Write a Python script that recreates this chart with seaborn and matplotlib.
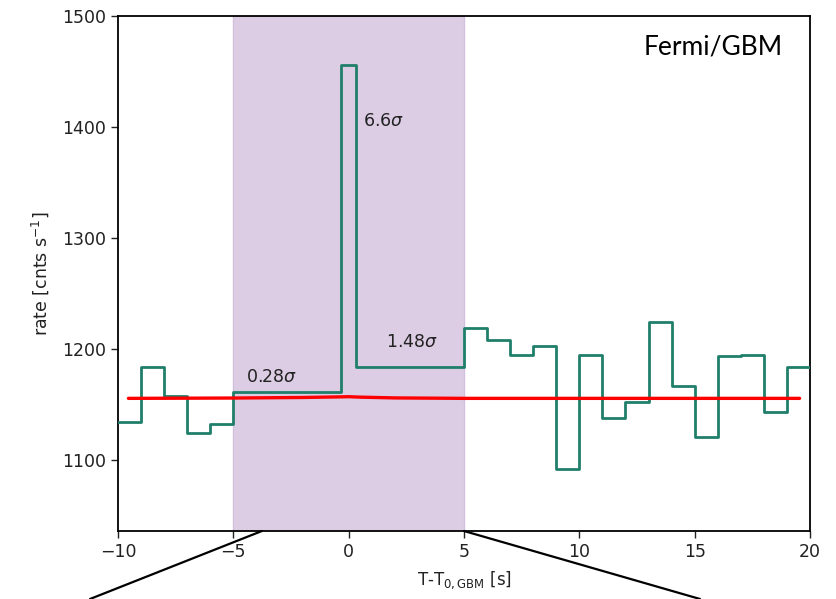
import numpy as np
import pandas as pd
import matplotlib
matplotlib.use("Agg")
import matplotlib.pyplot as plt
import seaborn as sns
from matplotlib.patches import ConnectionPatch

# ---- data ----
bin_edges = [-10, -9, -8, -7, -6, -5, -0.35, 0.33, 5, 6, 7, 8, 9, 10, 11, 12,
             13, 14, 15, 16, 17, 18, 19, 20]
rates = [1134, 1184, 1158, 1124, 1132, 1161, 1456, 1184, 1219, 1208, 1195,
         1203, 1092, 1195, 1138, 1152, 1224, 1167, 1121, 1194, 1195, 1143, 1184]
fit_t = [-9.55, -5.0, -2.0, -0.5, 0.0, 0.5, 2.0, 5.0, 19.55]
fit_rate = [1155.5, 1155.8, 1156.3, 1156.8, 1157.0, 1156.6, 1155.9, 1155.5, 1155.5]
span = [-5, 5]
sigma_labels = ["0.28$\\sigma$", "6.6$\\sigma$", "1.48$\\sigma$"]
sigma_x = [-4.45, 0.6, 1.6]
sigma_y = [1175, 1405, 1206]
xticks = [-10, -5, 0, 5, 10, 15, 20]
yticks = [1100, 1200, 1300, 1400, 1500]

sns.set_style("ticks")
plt.rcParams['font.family'] = ['DejaVu Sans']

fig = plt.figure(figsize=(8.37, 5.99), dpi=100)
ax = fig.add_axes([118/837, 1-531/599, (810-118)/837, (531-16)/599])

ax.axvspan(span[0], span[1], color="#dccde4", zorder=0, lw=1.0, ec="#d2c0dc")

step_df = pd.DataFrame({"t": bin_edges, "rate": rates + [rates[-1]]})
sns.lineplot(data=step_df, x="t", y="rate", drawstyle="steps-post",
             color="#1f7f6a", lw=2.0, ax=ax, zorder=3)

fit_df = pd.DataFrame({"t": fit_t, "rate": fit_rate})
sns.lineplot(data=fit_df, x="t", y="rate", color="#ff0000", lw=2.4, ax=ax, zorder=4)

for s, x, y in zip(sigma_labels, sigma_x, sigma_y):
    ax.text(x, y, s, fontsize=12.5, color="#222222", ha="left", va="center")

ax.text(0.961, 0.94, "Fermi/GBM", transform=ax.transAxes, fontsize=19,
        family=["Lato", "DejaVu Sans"], ha="right", va="center", color="black")

ax.set_xlim(-10, 20)
ax.set_ylim(1036, 1500)
ax.set_xticks(xticks)
ax.set_yticks(yticks)
ax.tick_params(labelsize=12.5, length=5, width=1.0, colors="#222222")
ax.set_xlabel("T-T$_{0,\\rm GBM}$ [s]", fontsize=12, color="#222222", labelpad=6)
ax.set_ylabel("rate [cnts s$^{-1}$]", fontsize=12.5, color="#222222", labelpad=8)
for sp in ax.spines.values():
    sp.set_linewidth(1.3)
    sp.set_color("black")

# connector lines below the axes
ylo = ax.get_ylim()[0]
for x0, fx in [(-3.76, 90/837), (5.0, 700/837)]:
    con = ConnectionPatch(xyA=(x0, ylo), coordsA=ax.transData,
                          xyB=(fx, 0.0), coordsB=fig.transFigure,
                          color="black", lw=1.6, clip_on=False)
    fig.add_artist(con)

fig.savefig("out.png", dpi=100)
